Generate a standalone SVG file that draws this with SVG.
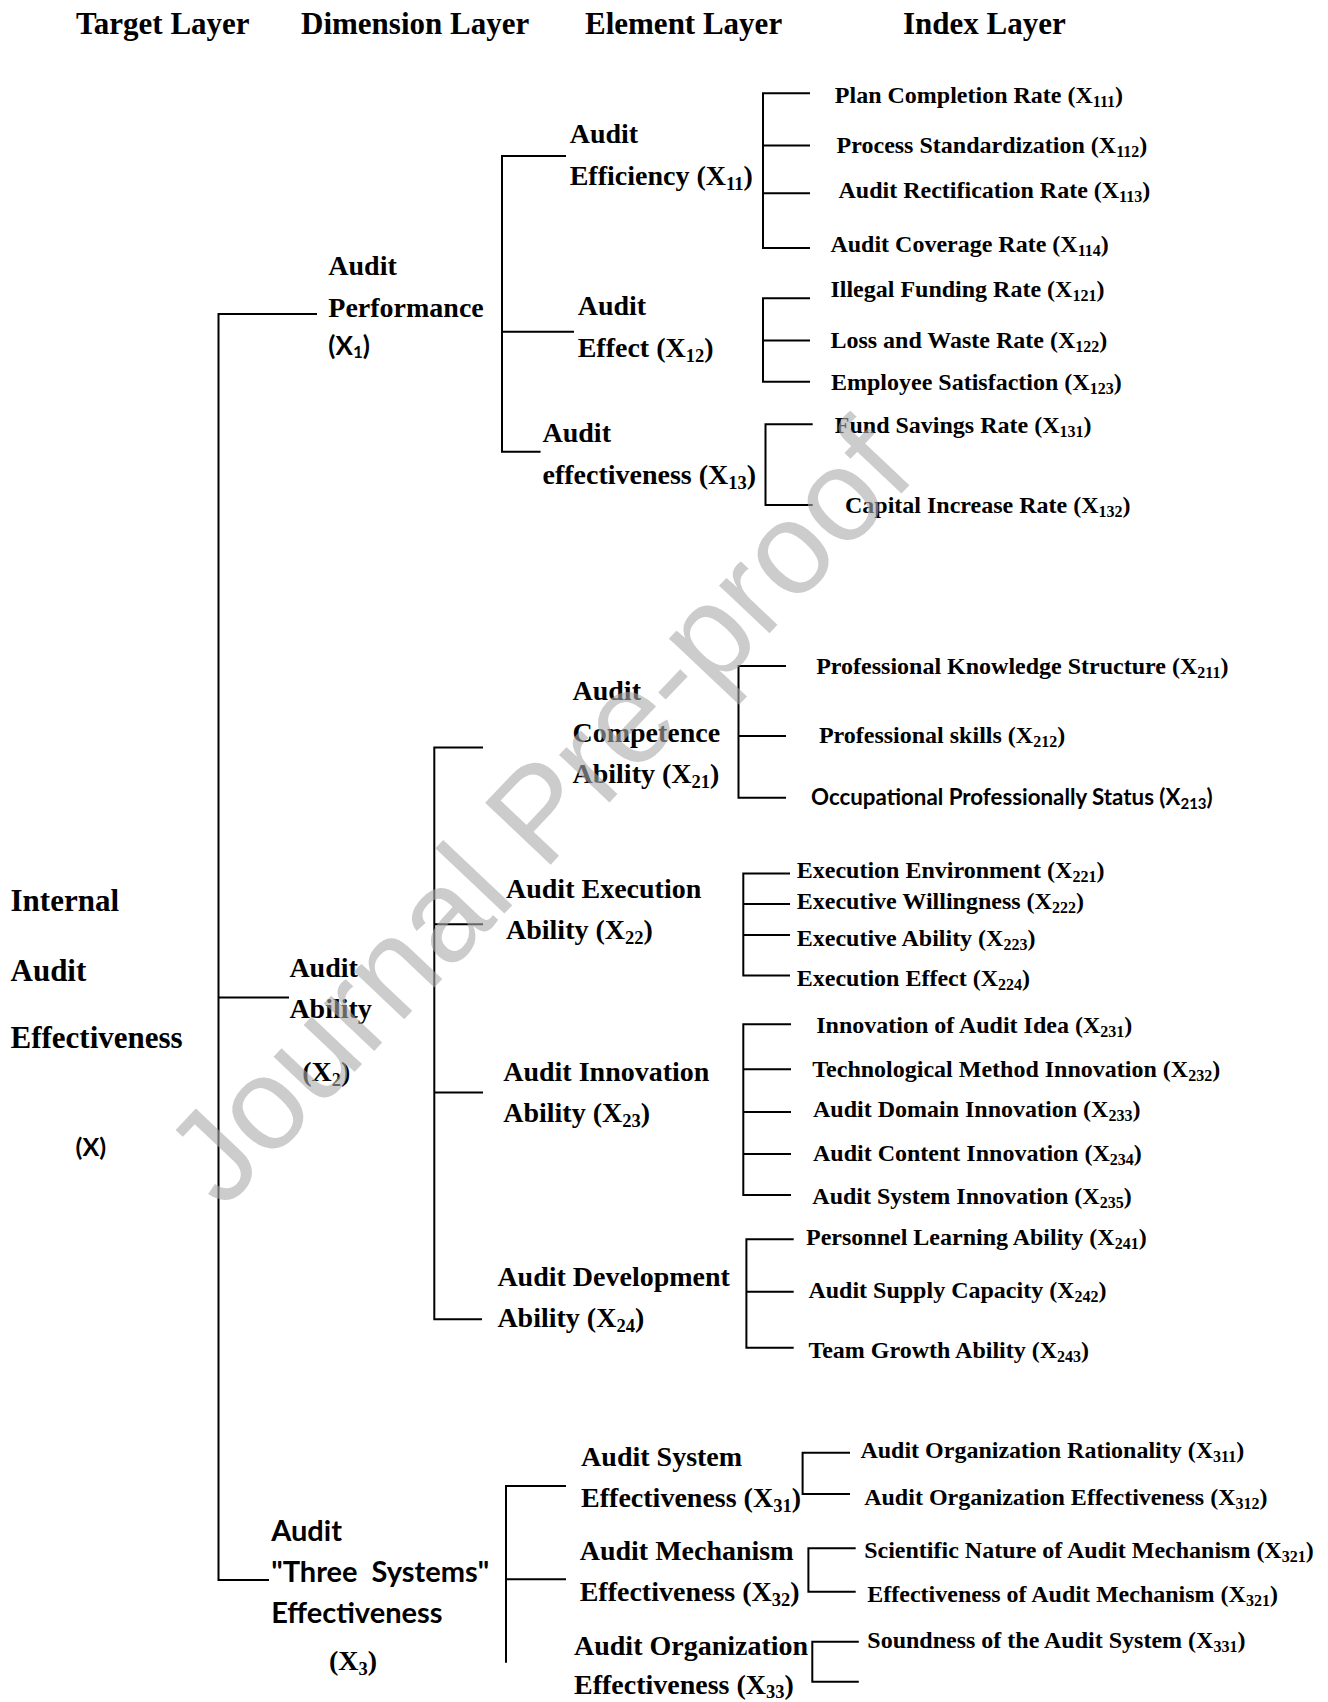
<svg xmlns="http://www.w3.org/2000/svg" width="1328" height="1702" viewBox="0 0 1328 1702">
<style>
.t{font-family:"Liberation Serif","Times New Roman",serif;font-weight:bold;fill:#000}
.s{font-family:Lato,"Liberation Sans",sans-serif;font-weight:bold;fill:#000}
.hdr{font-size:31px}
.root{font-size:31px}
.el{font-size:28px}
.idx{font-size:24px}
.sb{font-size:16px}
.sb2{font-size:18.5px}
.ln{fill:none;stroke:#000;stroke-width:2}
.wm{font-family:"Liberation Sans",Arial,sans-serif;font-size:131px;fill:#aaaaaa;fill-opacity:0.6}
</style>
<rect width="1328" height="1702" fill="#fff"/>
<g id="headers">
<text class="t hdr" x="76" y="34">Target Layer</text>
<text class="t hdr" x="301" y="34">Dimension Layer</text>
<text class="t hdr" x="585" y="34">Element Layer</text>
<text class="t hdr" x="903" y="34">Index Layer</text>
</g>
<g id="connectors" class="ln">
<path d="M317,314 H218.5 V1580 H269 M218.5,997.5 H289"/>
<path d="M566,156 H502 V451.7 H540.6 M502,331.7 H574"/>
<path d="M810,93.3 H763 V248 H810 M763,145.5 H810 M763,193.3 H810"/>
<path d="M810,298.3 H763 V381.7 H810 M763,340.5 H810"/>
<path d="M812.7,424.3 H765.5 V505 H812.7"/>
<path d="M483,747.5 H434.3 V1319.3 H482 M434.3,924.3 H483 M434.3,1092.5 H483"/>
<path d="M786,666 H738.5 V797.7 H786 M738.5,736 H786"/>
<path d="M790,873.6 H743.3 V975.4 H790 M743.3,904 H790 M743.3,935 H790"/>
<path d="M791,1024.3 H743.3 V1195 H791 M743.3,1069.3 H791 M743.3,1112 H791 M743.3,1154 H791"/>
<path d="M793.7,1239.3 H746.4 V1347.7 H793.7 M746.4,1291.7 H793.7"/>
<path d="M566,1486 H506 V1662.7 M506,1579.3 H566"/>
<path d="M850,1452.7 H802.6 V1494 H850"/>
<path d="M855.7,1548.3 H808.4 V1591.7 H855.7"/>
<path d="M858.8,1641.7 H812.3 V1681.7 H858.8"/>
</g>
<g id="X">
<text class="t root" x="10.5" y="911">Internal</text>
<text class="t root" x="10.5" y="980.7">Audit</text>
<text class="t root" x="10.5" y="1048">Effectiveness</text>
<text class="s" font-size="25" x="75.6" y="1155.7">(X)</text>
</g>
<g id="X1">
<text class="t el" x="328.3" y="275">Audit</text>
<text class="t el" x="328.3" y="317">Performance</text>
<text class="s" font-size="26" x="328.3" y="355">(X<tspan font-size="17" dy="3">1</tspan><tspan dy="-3">)</tspan></text>
</g>
<g id="X2">
<text class="t el" x="289.4" y="977">Audit</text>
<text class="t el" x="289.4" y="1018">Ability</text>
<text class="t el" x="302.3" y="1080.7">(X<tspan class="sb2" dy="5">2</tspan><tspan dy="-5">)</tspan></text>
</g>
<g id="X3">
<text class="s" font-size="29" x="271.2" y="1540.7">Audit</text>
<text class="s" font-size="29" x="271.2" y="1581.7" xml:space="preserve">"Three  Systems"</text>
<text class="s" font-size="29" x="271.2" y="1622.7">Effectiveness</text>
<text class="t el" x="329" y="1670">(X<tspan class="sb2" dy="5">3</tspan><tspan dy="-5">)</tspan></text>
</g>
<g id="X11">
<text class="t el" x="569.7" y="143.3">Audit</text>
<text class="t el" x="569.7" y="185">Efficiency (X<tspan class="sb2" dy="5">11</tspan><tspan dy="-5">)</tspan></text>
</g>
<g id="X12">
<text class="t el" x="577.7" y="315">Audit</text>
<text class="t el" x="577.7" y="356.7">Effect (X<tspan class="sb2" dy="5">12</tspan><tspan dy="-5">)</tspan></text>
</g>
<g id="X13">
<text class="t el" x="542.5" y="442">Audit</text>
<text class="t el" x="542.5" y="484">effectiveness (X<tspan class="sb2" dy="5">13</tspan><tspan dy="-5">)</tspan></text>
</g>
<g id="X21">
<text class="t el" x="572.5" y="700.4">Audit</text>
<text class="t el" x="572.5" y="741.6">Competence</text>
<text class="t el" x="572.5" y="782.8">Ability (X<tspan class="sb2" dy="5">21</tspan><tspan dy="-5">)</tspan></text>
</g>
<g id="X22">
<text class="t el" x="506" y="897.5">Audit Execution</text>
<text class="t el" x="506" y="939">Ability (X<tspan class="sb2" dy="5">22</tspan><tspan dy="-5">)</tspan></text>
</g>
<g id="X23">
<text class="t el" x="503.2" y="1080.5">Audit Innovation</text>
<text class="t el" x="503.2" y="1121.8">Ability (X<tspan class="sb2" dy="5">23</tspan><tspan dy="-5">)</tspan></text>
</g>
<g id="X24">
<text class="t el" x="497.4" y="1286">Audit Development</text>
<text class="t el" x="497.4" y="1326.7">Ability (X<tspan class="sb2" dy="5">24</tspan><tspan dy="-5">)</tspan></text>
</g>
<g id="X31">
<text class="t el" x="581.1" y="1466">Audit System</text>
<text class="t el" x="581.1" y="1506.7">Effectiveness (X<tspan class="sb2" dy="5">31</tspan><tspan dy="-5">)</tspan></text>
</g>
<g id="X32">
<text class="t el" x="579.7" y="1560">Audit Mechanism</text>
<text class="t el" x="579.7" y="1600.7">Effectiveness (X<tspan class="sb2" dy="5">32</tspan><tspan dy="-5">)</tspan></text>
</g>
<g id="X33">
<text class="t el" x="574" y="1655">Audit Organization</text>
<text class="t el" x="574" y="1693.5">Effectiveness (X<tspan class="sb2" dy="4">33</tspan><tspan dy="-4">)</tspan></text>
</g>
<g id="X111"><text class="t idx" x="834.8" y="102.7">Plan Completion Rate (X<tspan class="sb" dy="4">111</tspan><tspan dy="-4">)</tspan></text></g>
<g id="X112"><text class="t idx" x="836.6" y="152.7">Process Standardization (X<tspan class="sb" dy="4">112</tspan><tspan dy="-4">)</tspan></text></g>
<g id="X113"><text class="t idx" x="838.5" y="198.3">Audit Rectification Rate (X<tspan class="sb" dy="4">113</tspan><tspan dy="-4">)</tspan></text></g>
<g id="X114"><text class="t idx" x="830.4" y="251.7">Audit Coverage Rate (X<tspan class="sb" dy="4">114</tspan><tspan dy="-4">)</tspan></text></g>
<g id="X121"><text class="t idx" x="830.4" y="297.3">Illegal Funding Rate (X<tspan class="sb" dy="4">121</tspan><tspan dy="-4">)</tspan></text></g>
<g id="X122"><text class="t idx" x="830.4" y="348.3">Loss and Waste Rate (X<tspan class="sb" dy="4">122</tspan><tspan dy="-4">)</tspan></text></g>
<g id="X123"><text class="t idx" x="831" y="390">Employee Satisfaction (X<tspan class="sb" dy="4">123</tspan><tspan dy="-4">)</tspan></text></g>
<g id="X131"><text class="t idx" x="834.8" y="433.3">Fund Savings Rate (X<tspan class="sb" dy="4">131</tspan><tspan dy="-4">)</tspan></text></g>
<g id="X132"><text class="t idx" x="845" y="513.3">Capital Increase Rate (X<tspan class="sb" dy="4">132</tspan><tspan dy="-4">)</tspan></text></g>
<g id="X211"><text class="t idx" x="816.2" y="673.6">Professional Knowledge Structure (X<tspan class="sb" dy="4">211</tspan><tspan dy="-4">)</tspan></text></g>
<g id="X212"><text class="t idx" x="818.9" y="743.2">Professional skills (X<tspan class="sb" dy="4">212</tspan><tspan dy="-4">)</tspan></text></g>
<g id="X213"><text class="s" font-size="22.3" x="811.1" y="804.5">Occupational Professionally Status (X<tspan font-size="15" dy="4">213</tspan><tspan dy="-4">)</tspan></text></g>
<g id="X221"><text class="t idx" x="796.8" y="877.5">Execution Environment (X<tspan class="sb" dy="4">221</tspan><tspan dy="-4">)</tspan></text></g>
<g id="X222"><text class="t idx" x="796.8" y="909.3">Executive Willingness (X<tspan class="sb" dy="4">222</tspan><tspan dy="-4">)</tspan></text></g>
<g id="X223"><text class="t idx" x="796.8" y="945.7">Executive Ability (X<tspan class="sb" dy="4">223</tspan><tspan dy="-4">)</tspan></text></g>
<g id="X224"><text class="t idx" x="796.8" y="986">Execution Effect (X<tspan class="sb" dy="4">224</tspan><tspan dy="-4">)</tspan></text></g>
<g id="X231"><text class="t idx" x="816.2" y="1032.5">Innovation of Audit Idea (X<tspan class="sb" dy="4">231</tspan><tspan dy="-4">)</tspan></text></g>
<g id="X232"><text class="t idx" x="812.3" y="1076.5">Technological Method Innovation (X<tspan class="sb" dy="4">232</tspan><tspan dy="-4">)</tspan></text></g>
<g id="X233"><text class="t idx" x="813" y="1117">Audit Domain Innovation (X<tspan class="sb" dy="4">233</tspan><tspan dy="-4">)</tspan></text></g>
<g id="X234"><text class="t idx" x="813" y="1161">Audit Content Innovation (X<tspan class="sb" dy="4">234</tspan><tspan dy="-4">)</tspan></text></g>
<g id="X235"><text class="t idx" x="812.3" y="1204">Audit System Innovation (X<tspan class="sb" dy="4">235</tspan><tspan dy="-4">)</tspan></text></g>
<g id="X241"><text class="t idx" x="806" y="1245">Personnel Learning Ability (X<tspan class="sb" dy="4">241</tspan><tspan dy="-4">)</tspan></text></g>
<g id="X242"><text class="t idx" x="808.4" y="1298.3">Audit Supply Capacity (X<tspan class="sb" dy="4">242</tspan><tspan dy="-4">)</tspan></text></g>
<g id="X243"><text class="t idx" x="808.4" y="1358.3">Team Growth Ability (X<tspan class="sb" dy="4">243</tspan><tspan dy="-4">)</tspan></text></g>
<g id="X311"><text class="t idx" x="860.4" y="1458.3">Audit Organization Rationality (X<tspan class="sb" dy="4">311</tspan><tspan dy="-4">)</tspan></text></g>
<g id="X312"><text class="t idx" x="864.2" y="1505">Audit Organization Effectiveness (X<tspan class="sb" dy="4">312</tspan><tspan dy="-4">)</tspan></text></g>
<g id="X321"><text class="t idx" x="864.2" y="1558.3">Scientific Nature of Audit Mechanism (X<tspan class="sb" dy="4">321</tspan><tspan dy="-4">)</tspan></text></g>
<g id="X321b"><text class="t idx" x="867.3" y="1601.7">Effectiveness of Audit Mechanism (X<tspan class="sb" dy="4">321</tspan><tspan dy="-4">)</tspan></text></g>
<g id="X331"><text class="t idx" x="867.3" y="1648.3">Soundness of the Audit System (X<tspan class="sb" dy="4">331</tspan><tspan dy="-4">)</tspan></text></g>
<g id="watermark">
<text class="wm" transform="translate(223,1211) rotate(-46.6)">Journal Pre-proof</text>
</g>
</svg>
